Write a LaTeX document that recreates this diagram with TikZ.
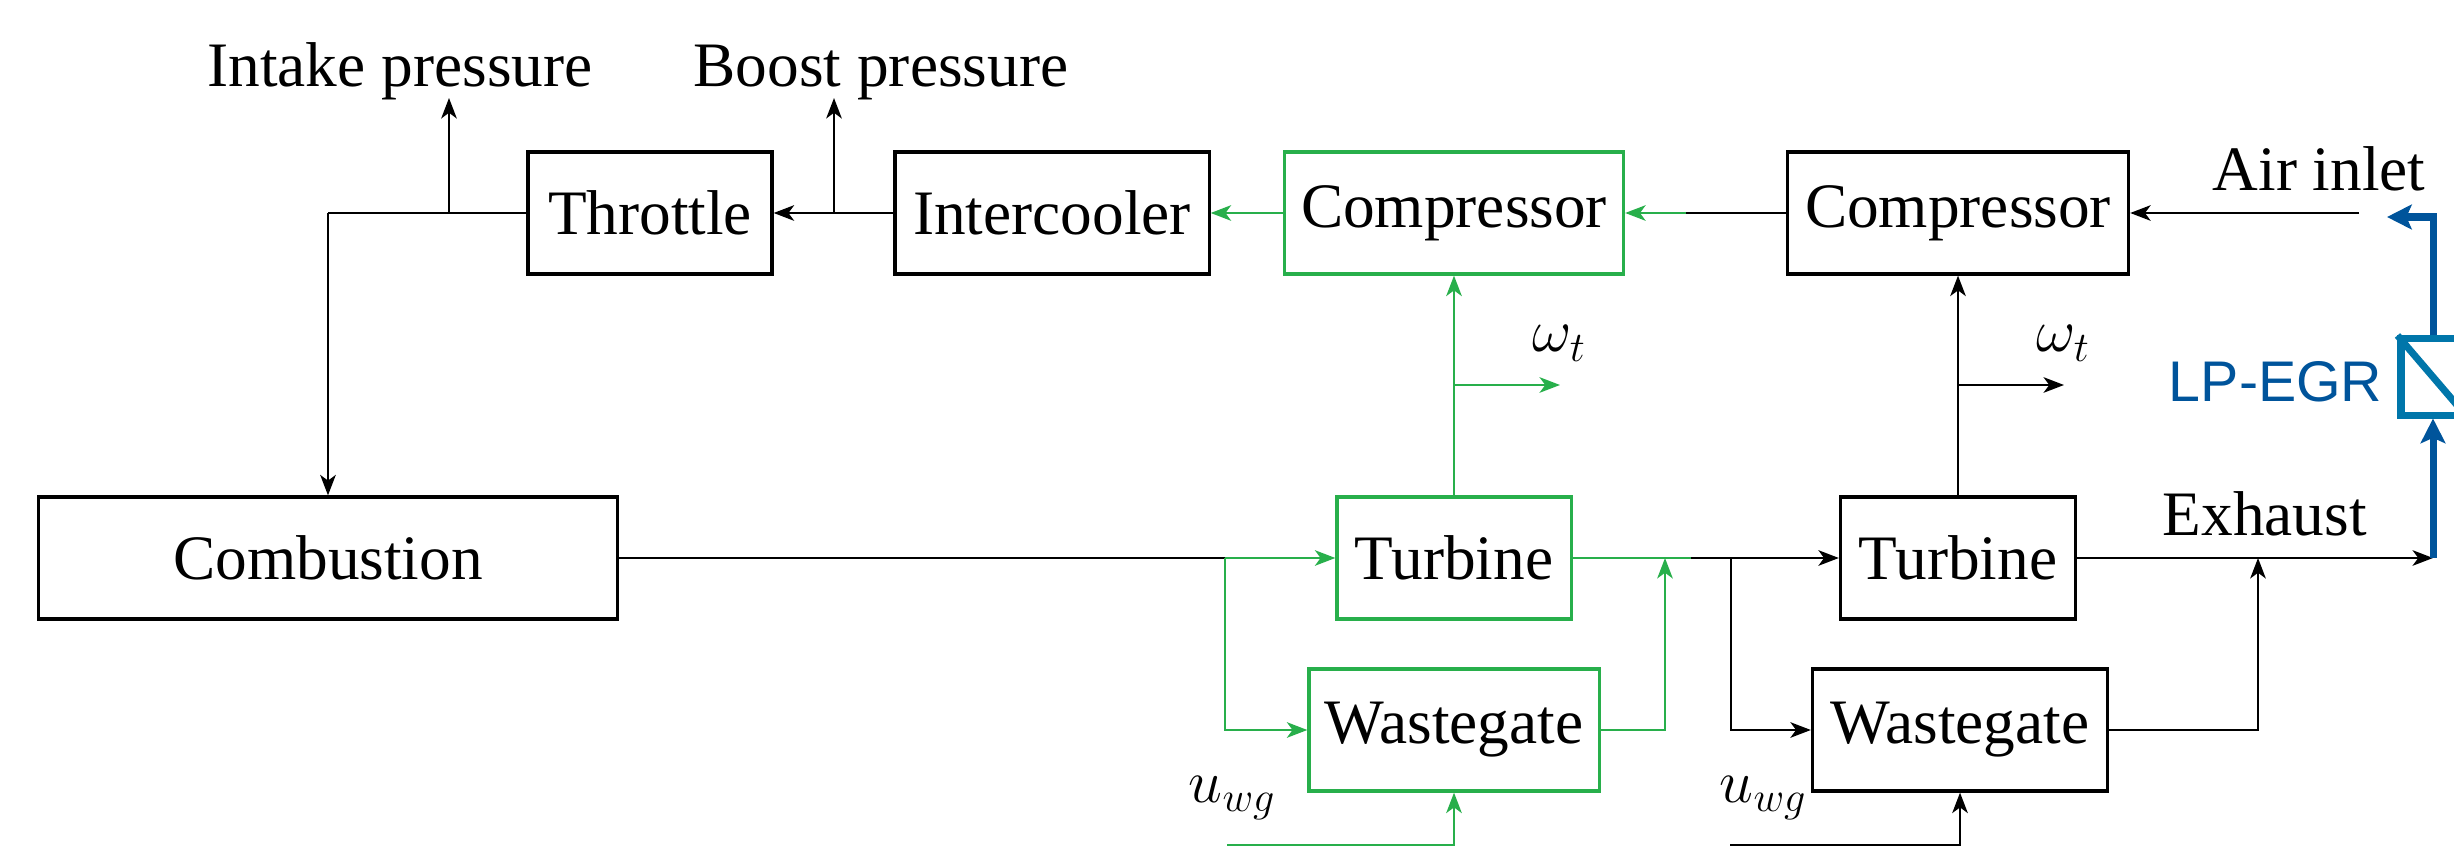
\documentclass[tikz,border=0pt]{standalone}
\usepackage{fontspec}
\setmainfont{Liberation Serif}
\newfontfamily\lpsans{Liberation Sans}
\usetikzlibrary{arrows.meta}
\definecolor{tgreen}{RGB}{40,175,75}
\definecolor{egrline}{RGB}{0,84,155}
\definecolor{egrbox}{RGB}{0,118,170}
\begin{document}
\begin{tikzpicture}[x=0.01cm,y=-0.01cm,
  txt/.style={font=\fontsize{18}{22}\selectfont, inner sep=0pt},
  mtxt/.style={font=\fontsize{18.5}{22}\selectfont, inner sep=0pt},
  blk/.style={txt, draw, line width=0.9pt, minimum height=1.22cm},
  gblk/.style={blk, draw=tgreen},
  wire/.style={line width=0.75pt},
  gwire/.style={wire, color=tgreen},
  arr/.style={wire, -{Stealth[length=5.8pt,width=4.4pt,inset=1.6pt]}},
  garr/.style={arr, color=tgreen},
  barr/.style={line width=2pt, color=egrline, -{Stealth[length=7pt,width=7pt,inset=1.5pt]}},
]
\useasboundingbox (0,0) rectangle (2454,846);

% blocks
\node[blk, minimum width=2.44cm] (thr) at (650,213) {Throttle};
\node[blk, minimum width=3.14cm] (ic) at (1052,213) {Intercooler};
\node[gblk, minimum width=3.39cm] (gcomp) at (1454,213) {Compressor};
\node[blk, minimum width=3.41cm] (bcomp) at (1958,213) {Compressor};
\node[blk, minimum width=5.78cm] (comb) at (328,558) {Combustion};
\node[gblk, minimum width=2.34cm] (gturb) at (1454,558) {Turbine};
\node[gblk, minimum width=2.90cm] (gwg) at (1454,730) {Wastegate};
\node[blk, minimum width=2.35cm] (bturb) at (1958,558) {Turbine};
\node[blk, minimum width=2.95cm] (bwg) at (1960,730) {Wastegate};
\node[draw=egrbox, line width=2pt, minimum width=0.64cm, minimum height=0.76cm, inner sep=0pt] (egr) at (2433,377) {};
\draw[egrbox, line width=2pt] (egr.north west) -- (egr.south east);

% labels
\node[txt, anchor=base] (lintake) at (400,87) {Intake pressure};
\node[txt, anchor=base] (lboost) at (881,87) {Boost pressure};
\node[txt, anchor=base west] (lair) at (2212,191) {Air inlet};
\node[txt, anchor=base west] (lexh) at (2162,535) {Exhaust};
\node[anchor=base east, inner sep=0pt, text=egrline, font=\lpsans\fontsize{16.3}{19}\selectfont] (legr) at (2383,402) {LP-EGR};
\node[mtxt, anchor=base west] (lw1) at (1532,352) {$\omega_t$};
\node[mtxt, anchor=base west] (lw2) at (2036,352) {$\omega_t$};
\node[mtxt, anchor=base west] (lu1) at (1188,802) {$u_{wg}$};
\node[mtxt, anchor=base west] (lu2) at (1719,802) {$u_{wg}$};

% junction coordinates
\coordinate (ip) at (449,213);
\coordinate (iptip) at (449,98);
\coordinate (bp) at (834,213);
\coordinate (bptip) at (834,98);
\coordinate (tl) at (328,213);
\coordinate (cm) at (1686,213);
\coordinate (airstart) at (2359,213);
\coordinate (airend) at (2387,217);
\coordinate (cj) at (1225,558);
\coordinate (tj) at (1691,558);
\coordinate (gm) at (1665,558);
\coordinate (bj) at (1731,558);
\coordinate (ex) at (2258,558);
\coordinate (egrfoot) at (2433,558);
\coordinate (gwb) at (1454,385);
\coordinate (gwt) at (1560,385);
\coordinate (bwb) at (1958,385);
\coordinate (bwt) at (2064,385);
\coordinate (gbl) at (1227,845);
\coordinate (gbr) at (1454,845);
\coordinate (bbl) at (1730,845);
\coordinate (bbr) at (1960,845);

% top chain
\draw[arr] (airstart) -- (bcomp.east);
\draw[wire] (bcomp.west) -- (cm);
\draw[garr] (cm) -- (gcomp.east);
\draw[garr] (gcomp.west) -- (ic.east);
\draw[arr] (ic.west) -- (thr.east);
\draw[arr] (bp) -- (bptip);
\draw[wire] (thr.west) -- (tl);
\draw[arr] (tl) -- (comb.north);
\draw[arr] (ip) -- (iptip);

% turbines
\draw[wire] (comb.east) -- (cj);
\draw[garr] (cj) -- (gturb.west);
\draw[garr] (cj) |- (gwg.west);
\draw[gwire] (gturb.east) -- (tj);
\draw[arr] (tj) -- (bturb.west);
\draw[garr] (gwg.east) -| (gm);
\draw[arr] (bj) |- (bwg.west);
\draw[arr] (bwg.east) -| (ex);
\draw[arr] (bturb.east) -- (egrfoot);

% shafts
\draw[garr] (gturb.north) -- (gcomp.south);
\draw[garr] (gwb) -- (gwt);
\draw[arr] (bturb.north) -- (bcomp.south);
\draw[arr] (bwb) -- (bwt);

% wastegate inputs
\draw[garr] (gbl) -- (gbr) -- (gwg.south);
\draw[arr] (bbl) -- (bbr) -- (bwg.south);

% LP-EGR
\draw[barr] (egrfoot) -- (egr.south);
\draw[barr] (egr.north) |- (airend);
\end{tikzpicture}
\end{document}
